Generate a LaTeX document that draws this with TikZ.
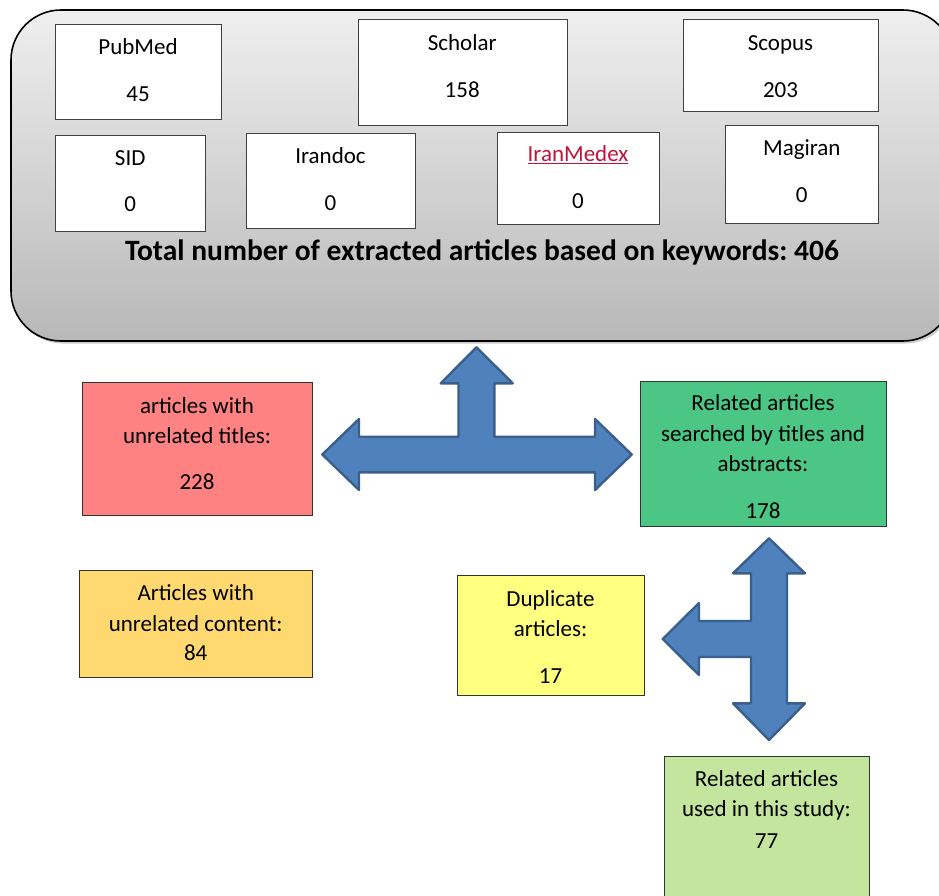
\documentclass[tikz,border=0pt]{standalone}
\usepackage{fontspec}
\setmainfont{Carlito}
\frenchspacing
\definecolor{boxgray}{HTML}{404040}
\definecolor{panelTop}{HTML}{EFEFEF}
\definecolor{panelBot}{HTML}{B8B8B8}
\definecolor{redfill}{HTML}{FF8282}
\definecolor{greenfill}{HTML}{4BC684}
\definecolor{orangefill}{HTML}{FFD970}
\definecolor{yellowfill}{HTML}{FFFF80}
\definecolor{lightgreenfill}{HTML}{C4E59E}
\definecolor{arrowfill}{HTML}{4F81BD}
\definecolor{arrowline}{HTML}{3A5F8B}
\definecolor{linkred}{HTML}{C0143C}
\begin{document}
\begin{tikzpicture}[x=1pt,y=-1pt,
  dbbox/.style={draw=boxgray, line width=1.1pt, fill=white, inner sep=0pt, anchor=north west},
  resbox/.style={draw=black!80, line width=1.1pt, inner sep=0pt, anchor=north west},
  txt/.style={anchor=base, inner sep=0pt, font=\fontsize{23}{27}\selectfont},
  ttl/.style={anchor=base, inner sep=0pt, font=\fontsize{29.5}{35}\selectfont\bfseries},
  bigarrow/.style={fill=arrowfill, draw=arrowline, line width=2.4pt, line join=round}]
\useasboundingbox (0,0) rectangle (939,895);
% panel
\fill[black!20, rounded corners=50pt] (12.5,12.5) rectangle (955,343.5);
\shade[top color=panelTop, bottom color=panelBot, rounded corners=50pt] (11,10) rectangle (953,341);
\draw[black, line width=1.6pt, rounded corners=50pt] (11,10) rectangle (953,341);
% database boxes
\node[dbbox, minimum width=165.4pt, minimum height=94.7pt] (pubmed) at (55.3,24.3) {};
\node[dbbox, minimum width=209pt, minimum height=106pt] (scholar) at (357.7,19.3) {};
\node[dbbox, minimum width=195.6pt, minimum height=91.7pt] (scopus) at (682.7,19.3) {};
\node[dbbox, minimum width=149.7pt, minimum height=96pt] (sid) at (55.3,134.7) {};
\node[dbbox, minimum width=169pt, minimum height=94.7pt] (irandoc) at (246,133.3) {};
\node[dbbox, minimum width=162.6pt, minimum height=92.6pt] (iranmedex) at (496.7,131.7) {};
\node[dbbox, minimum width=153pt, minimum height=97.7pt] (magiran) at (725.3,125.3) {};
\node[txt] (pubmedA) at (138,54) {PubMed};
\node[txt] (pubmedB) at (138,101.7) {45};
\node[txt] (scholarA) at (462.2,50) {Scholar};
\node[txt] (scholarB) at (462.2,97.3) {158};
\node[txt] (scopusA) at (780.5,50) {Scopus};
\node[txt] (scopusB) at (780.5,97.3) {203};
\node[txt] (sidA) at (130.2,165) {SID};
\node[txt] (sidB) at (130.2,211.7) {0};
\node[txt] (irandocA) at (330.5,163.3) {Irandoc};
\node[txt] (irandocB) at (330.5,210.7) {0};
\node[txt, text=linkred] (iranmedexA) at (578,161.7) {\underline{IranMedex}};
\node[txt] (iranmedexB) at (578,208.3) {0};
\node[txt] (magiranA) at (801.8,155) {Magiran};
\node[txt] (magiranB) at (801.8,202.3) {0};
\node[ttl] (total) at (482,260.5) {Total number of extracted articles based on keywords: 406};
% result boxes
\node[resbox, fill=redfill, minimum width=230.6pt, minimum height=132.7pt] (unrelT) at (81.7,382.3) {};
\node[txt] (unrelTa) at (197,413.3) {articles with};
\node[txt] (unrelTb) at (197,443.3) {unrelated titles:};
\node[txt] (unrelTc) at (197,489.3) {228};
\node[resbox, fill=greenfill, minimum width=246pt, minimum height=145pt] (related) at (640,380.7) {};
\node[txt] (relatedA) at (763,410.7) {Related articles};
\node[txt] (relatedB) at (763,441.7) {searched by titles and};
\node[txt] (relatedC) at (763,471.7) {abstracts:};
\node[txt] (relatedD) at (763,518.3) {178};
\node[resbox, fill=orangefill, minimum width=233.3pt, minimum height=106.7pt] (unrelC) at (79,570) {};
\node[txt] (unrelCa) at (195.7,600) {Articles with};
\node[txt] (unrelCb) at (195.7,631.7) {unrelated content:};
\node[txt] (unrelCc) at (195.7,660) {84};
\node[resbox, fill=yellowfill, minimum width=187.6pt, minimum height=120pt] (dup) at (456.7,575) {};
\node[txt] (dupA) at (550.5,606) {Duplicate};
\node[txt] (dupB) at (550.5,636.7) {articles:};
\node[txt] (dupC) at (550.5,683.3) {17};
\node[resbox, fill=lightgreenfill, minimum width=205pt, minimum height=160pt] (used) at (664,756) {};
\node[txt] (usedA) at (766.5,786.7) {Related articles};
\node[txt] (usedB) at (766.5,816) {used in this study:};
\node[txt] (usedC) at (766.5,848.3) {77};
% arrows
\draw[bigarrow] (476.5,347.3) -- (512.7,383.3) -- (494.3,383.3) -- (494.3,436.7)
  -- (595,436.7) -- (595,419) -- (631.7,454.5) -- (595,490) -- (595,472.3)
  -- (359,472.3) -- (359,490) -- (322.3,454.5) -- (359,419) -- (359,436.7)
  -- (458.5,436.7) -- (458.5,383.3) -- (440.7,383.3) -- cycle;
\draw[bigarrow] (769,538.3) -- (805,573.3) -- (787,573.3) -- (787,703.3)
  -- (805,703.3) -- (769,740) -- (733,703.3) -- (751,703.3) -- (751,657)
  -- (699,657) -- (699,675) -- (662.7,639) -- (699,603) -- (699,621)
  -- (751,621) -- (751,573.3) -- (733,573.3) -- cycle;
\end{tikzpicture}
\end{document}
